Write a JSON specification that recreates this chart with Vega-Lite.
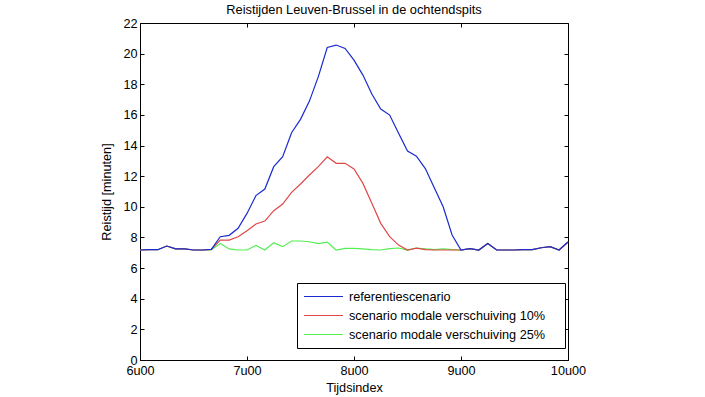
{
  "$schema": "https://vega.github.io/schema/vega-lite/v6.json",
  "width": 428,
  "height": 337,
  "autosize": {"type": "none"},
  "padding": {"left": 140, "top": 23, "right": 137, "bottom": 37},
  "background": "white",
  "config": {
    "font": "Liberation Sans",
    "view": {"stroke": "black", "strokeWidth": 1},
    "axis": {
      "grid": false,
      "domainColor": "black",
      "tickColor": "black",
      "tickSize": -4,
      "labelFontSize": 12.7,
      "labelColor": "black",
      "titleFontSize": 12.7,
      "titleFontWeight": "normal",
      "titleColor": "black",
      "labelFont": "Liberation Sans",
      "titleFont": "Liberation Sans"
    }
  },
  "title": {
    "text": "Reistijden Leuven-Brussel in de ochtendspits",
    "fontSize": 12.8,
    "fontWeight": "normal",
    "font": "Liberation Sans",
    "color": "black",
    "anchor": "middle",
    "offset": 0
  },
  "data": {
    "values": [
      {"t": 0, "b": 7.18, "r": 7.18, "g": 7.18},
      {"t": 5, "b": 7.2, "r": 7.2, "g": 7.2},
      {"t": 10, "b": 7.2, "r": 7.2, "g": 7.2},
      {"t": 15, "b": 7.44, "r": 7.44, "g": 7.44},
      {"t": 20, "b": 7.25, "r": 7.25, "g": 7.25},
      {"t": 25, "b": 7.25, "r": 7.25, "g": 7.25},
      {"t": 30, "b": 7.18, "r": 7.18, "g": 7.18},
      {"t": 35, "b": 7.18, "r": 7.18, "g": 7.18},
      {"t": 40, "b": 7.22, "r": 7.22, "g": 7.18},
      {"t": 45, "b": 8.05, "r": 7.83, "g": 7.6},
      {"t": 50, "b": 8.14, "r": 7.83, "g": 7.25},
      {"t": 55, "b": 8.6, "r": 8.05, "g": 7.18},
      {"t": 60, "b": 9.57, "r": 8.44, "g": 7.18},
      {"t": 65, "b": 10.73, "r": 8.88, "g": 7.48},
      {"t": 70, "b": 11.16, "r": 9.07, "g": 7.18},
      {"t": 75, "b": 12.62, "r": 9.75, "g": 7.66},
      {"t": 80, "b": 13.27, "r": 10.18, "g": 7.4},
      {"t": 85, "b": 14.84, "r": 10.94, "g": 7.77},
      {"t": 90, "b": 15.71, "r": 11.49, "g": 7.77},
      {"t": 95, "b": 16.9, "r": 12.08, "g": 7.72},
      {"t": 100, "b": 18.5, "r": 12.62, "g": 7.6},
      {"t": 105, "b": 20.4, "r": 13.27, "g": 7.7},
      {"t": 110, "b": 20.56, "r": 12.84, "g": 7.18},
      {"t": 115, "b": 20.34, "r": 12.84, "g": 7.29},
      {"t": 120, "b": 19.58, "r": 12.47, "g": 7.29},
      {"t": 125, "b": 18.6, "r": 11.53, "g": 7.25},
      {"t": 130, "b": 17.36, "r": 10.23, "g": 7.2},
      {"t": 135, "b": 16.38, "r": 8.92, "g": 7.18},
      {"t": 140, "b": 15.99, "r": 8.05, "g": 7.27},
      {"t": 145, "b": 14.8, "r": 7.5, "g": 7.31},
      {"t": 150, "b": 13.64, "r": 7.18, "g": 7.18},
      {"t": 155, "b": 13.3, "r": 7.3, "g": 7.31},
      {"t": 160, "b": 12.5, "r": 7.2, "g": 7.25},
      {"t": 165, "b": 11.25, "r": 7.18, "g": 7.2},
      {"t": 170, "b": 10.0, "r": 7.18, "g": 7.25},
      {"t": 175, "b": 8.16, "r": 7.18, "g": 7.2},
      {"t": 180, "b": 7.18, "r": 7.18, "g": 7.18},
      {"t": 185, "b": 7.27, "r": 7.27, "g": 7.27},
      {"t": 190, "b": 7.18, "r": 7.18, "g": 7.18},
      {"t": 195, "b": 7.6, "r": 7.6, "g": 7.6},
      {"t": 200, "b": 7.18, "r": 7.18, "g": 7.18},
      {"t": 205, "b": 7.18, "r": 7.18, "g": 7.18},
      {"t": 210, "b": 7.18, "r": 7.18, "g": 7.18},
      {"t": 215, "b": 7.2, "r": 7.2, "g": 7.2},
      {"t": 220, "b": 7.2, "r": 7.2, "g": 7.2},
      {"t": 225, "b": 7.33, "r": 7.33, "g": 7.33},
      {"t": 230, "b": 7.4, "r": 7.4, "g": 7.4},
      {"t": 235, "b": 7.18, "r": 7.18, "g": 7.18},
      {"t": 240, "b": 7.7, "r": 7.7, "g": 7.7}
    ]
  },
  "transform": [
    {"fold": ["b", "r", "g"], "as": ["k", "v"]},
    {"lookup": "k", "from": {"data": {"values": [
      {"k": "b", "s": "referentiescenario"},
      {"k": "r", "s": "scenario modale verschuiving 10%"},
      {"k": "g", "s": "scenario modale verschuiving 25%"}
    ]}, "key": "k", "fields": ["s"]}}
  ],
  "layer": [
    {
      "transform": [{"filter": "datum.k === 'g'"}],
      "mark": {"type": "line", "strokeWidth": 1.2},
      "encoding": {
        "x": {"field": "t", "type": "quantitative", "scale": {"domain": [0, 240], "nice": false},
          "axis": {"orient": "bottom", "values": [0, 60, 120, 180, 240], "labelExpr": "(6 + datum.value / 60) + 'u00'", "title": "Tijdsindex", "labelPadding": 8, "titlePadding": 5, "labelFlush": false}},
        "y": {"field": "v", "type": "quantitative", "scale": {"domain": [0, 22], "nice": false},
          "axis": {"orient": "left", "values": [0, 2, 4, 6, 8, 10, 12, 14, 16, 18, 20, 22], "title": "Reistijd [minuten]", "labelPadding": 7, "titlePadding": 9}},
        "color": {"field": "s", "type": "nominal",
          "scale": {"domain": ["referentiescenario", "scenario modale verschuiving 10%", "scenario modale verschuiving 25%"], "range": ["#1a2bd0", "#e04848", "#55ee55"]},
          "legend": {"title": "\u00a0", "titleOrient": "right", "titlePadding": 14, "titleFontSize": 12.7, "orient": "none", "legendX": 157, "legendY": 260, "symbolType": "M-1,0H5", "symbolSize": 169, "symbolStrokeWidth": 1.2, "labelFontSize": 12.7, "labelFont": "Liberation Sans", "labelColor": "black", "strokeColor": "black", "fillColor": "white", "padding": 6, "rowPadding": 4, "labelOffset": 31, "labelLimit": 400}}
      }
    },
    {
      "transform": [{"filter": "datum.k === 'r'"}],
      "mark": {"type": "line", "strokeWidth": 1.2},
      "encoding": {
        "x": {"field": "t", "type": "quantitative", "axis": {"orient": "top", "values": [0, 60, 120, 180, 240], "labels": false, "title": null, "domain": false}},
        "y": {"field": "v", "type": "quantitative", "axis": {"orient": "right", "values": [0, 2, 4, 6, 8, 10, 12, 14, 16, 18, 20, 22], "labels": false, "title": null, "domain": false}},
        "color": {"field": "s", "type": "nominal"}
      }
    },
    {
      "transform": [{"filter": "datum.k === 'b'"}],
      "mark": {"type": "line", "strokeWidth": 1.2},
      "encoding": {
        "x": {"field": "t", "type": "quantitative", "axis": null},
        "y": {"field": "v", "type": "quantitative", "axis": null},
        "color": {"field": "s", "type": "nominal"}
      }
    }
  ],
  "resolve": {"axis": {"x": "independent", "y": "independent"}}
}
